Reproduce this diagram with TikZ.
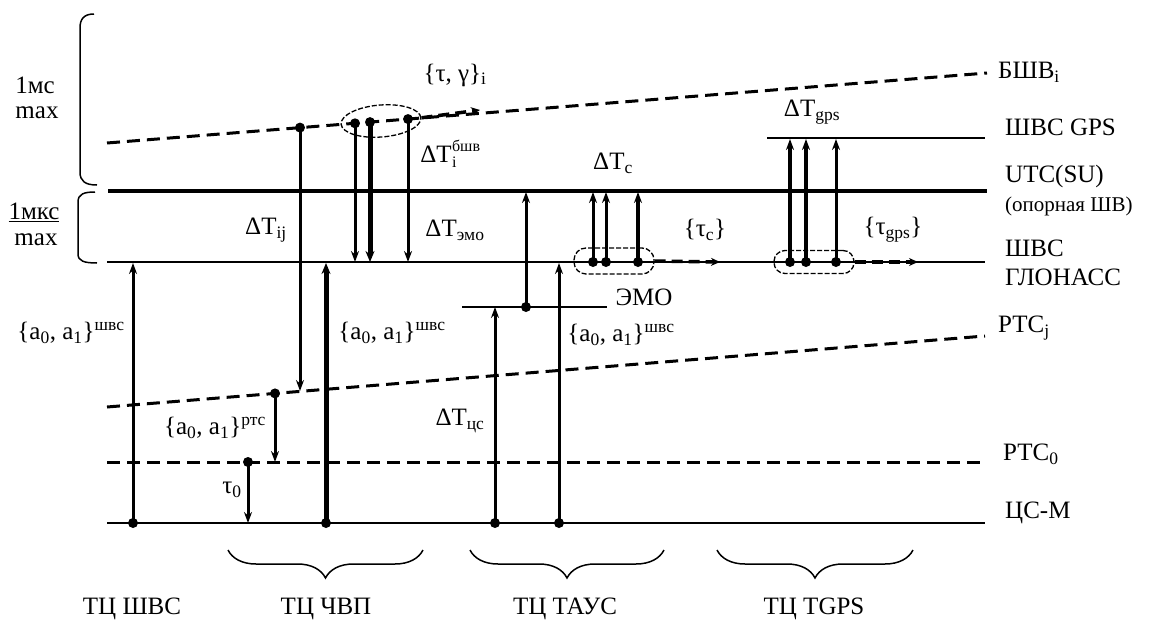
\documentclass[tikz,border=0pt]{standalone}
\usepackage{fontspec}
\setmainfont{Liberation Serif}
\usetikzlibrary{arrows.meta,shapes.geometric,decorations.pathreplacing,calc}
\newcommand\lsb[1]{\textsubscript{#1}}
\newcommand\lsp[1]{\textsuperscript{#1}}
\begin{document}
\begin{tikzpicture}[x=1pt,y=-1pt,
  lvl/.style={line width=1.5pt},
  lvlthick/.style={line width=4pt},
  lvldash/.style={line width=3pt,dash pattern=on 13pt off 7pt},
  arr/.style={line width=3pt,-{Stealth[length=11pt,width=8pt]}},
  arrthick/.style={line width=5pt,-{Stealth[length=11pt,width=9pt]}},
  dasharr/.style={line width=3.5pt,dash pattern=on 11pt off 6pt,-{Stealth[length=9pt,width=8pt]}},
  dot/.style={circle,fill=black,inner sep=0pt,minimum size=10pt},
  grp/.style={draw,line width=1.3pt,dash pattern=on 5pt off 2pt,inner sep=0pt},
  lab/.style={inner sep=0pt,font=\fontsize{25}{29}\selectfont},
  rlab/.style={lab,anchor=west},
  brk/.style={line width=1.5pt},
  ubrace/.style={line width=1.5pt,decorate,decoration={brace,amplitude=28pt,mirror}}]
\useasboundingbox (0,0) rectangle (1152,624);

% level lines
\coordinate (b1) at (107,143); \coordinate (b2) at (987,73);
\coordinate (g1) at (767,138); \coordinate (g2) at (985,138);
\coordinate (u1) at (108,191); \coordinate (u2) at (987,191);
\coordinate (s1) at (107,262); \coordinate (s2) at (985,262);
\coordinate (e1) at (462,307); \coordinate (e2) at (607,307);
\coordinate (j1) at (107,407); \coordinate (j2) at (985,336);
\coordinate (z1) at (107,462); \coordinate (z2) at (987,462);
\coordinate (c1) at (107,523); \coordinate (c2) at (985,523);
\draw[lvldash] (b1) -- (b2);
\draw[lvl] (g1) -- (g2);
\draw[lvlthick] (u1) -- (u2);
\draw[lvl] (s1) -- (s2);
\draw[lvl] (e1) -- (e2);
\draw[lvldash] (j1) -- (j2);
\draw[lvldash] (z1) -- (z2);
\draw[lvl] (c1) -- (c2);

% right labels
\node[rlab] (lb) at (998,72) {БШВ\lsb{i}};
\node[rlab] (lg) at (1005,127) {ШВС GPS};
\node[rlab] (lu) at (1005,176) {UTC(SU)};
\node[rlab,font=\fontsize{21}{24}\selectfont] (lu2) at (1005,206) {(опорная ШВ)};
\node[rlab] (ls) at (1005,248) {ШВС};
\node[rlab] (ls2) at (1005,277) {ГЛОНАСС};
\node[lab] (le) at (644,297) {ЭМО};
\node[rlab] (lj) at (998,328) {РТС\lsb{j}};
\node[rlab] (lz) at (1003,454) {РТС\lsb{0}};
\node[rlab] (lc) at (1005,513) {ЦС-М};

% left brackets and labels
\draw[brk] (94,14) .. controls (84,14) and (80,19) .. (80,28) -- (80,172) .. controls (80,181) and (85,185) .. (97,185);
\draw[brk] (95,192) .. controls (84,192) and (78,194) .. (78,202) -- (78,254) .. controls (78,261) and (84,263) .. (97,263);
\node[lab] (m1) at (35,85) {1мс};
\node[lab] (m2) at (37,113) {max};
\node[lab] (m3) at (34,212) {\underline{1мкс}};
\node[lab] (m4) at (36,240) {max};

% arrow 1: ЦС-М -> ШВС ГЛОНАСС (ТЦ ШВС)
\node[dot] (d1) at (133,523) {};
\coordinate (t1) at (133,263);
\draw[arr] (d1.center) -- (t1);
\node[lab] (a1) at (71,333) {\{a\lsb{0}, a\lsb{1}\}\lsp{швс}};

% ЧВП group
\node[dot] (d2) at (300,127.6) {};
\coordinate (t2) at (300,391);
\draw[arr] (d2.center) -- (t2);
\node[lab] (aij) at (266,230) {ΔT\lsb{ij}};
\node[dot] (d3) at (275,393.4) {};
\coordinate (t3) at (275,462);
\draw[arr] (d3.center) -- (t3);
\node[lab] (artc) at (215,428) {\{a\lsb{0}, a\lsb{1}\}\lsp{ртс}};
\node[dot] (d4) at (248,462) {};
\coordinate (t4) at (248,523);
\draw[arr] (d4.center) -- (t4);
\node[lab] (atau) at (232,490) {τ\lsb{0}};
\node[dot] (d5) at (326,523) {};
\coordinate (t5) at (326,263);
\draw[arrthick] (d5.center) -- (t5);
\node[lab] (a2) at (392,333) {\{a\lsb{0}, a\lsb{1}\}\lsp{швс}};

\node[dot] (d6) at (355,123.3) {};
\node[dot] (d7) at (370,122.1) {};
\node[dot] (d8) at (408,119.05) {};
\coordinate (t6) at (355,262); \coordinate (t7) at (370,262); \coordinate (t8) at (408,262);
\draw[arr] (d6.center) -- (t6);
\draw[arrthick] (d7.center) -- (t7);
\draw[arr] (d8.center) -- (t8);
\node[grp,ellipse,minimum width=80pt,minimum height=32pt,rotate=4.5] (ell) at (381,121) {};
\coordinate (tg) at (480,110);
\draw[dasharr] (ell.east) -- (tg);
\node[lab] (ltg) at (455,75) {\{τ, γ\}\lsb{i}};
\node[lab] (lbshv) at (436,154) {ΔT};
\node[anchor=west,inner sep=0pt,align=left,font=\fontsize{16}{16}\selectfont] (lbshv2) at (lbshv.east) {бшв\\i};
\node[lab] (lemo) at (455,230) {ΔT\lsb{эмо}};

% ТАУС group
\node[dot] (d9) at (526,307) {};
\coordinate (t9) at (526,192);
\draw[arr] (d9.center) -- (t9);
\node[dot] (d10) at (495,523) {};
\coordinate (t10) at (495,307);
\draw[arr] (d10.center) -- (t10);
\node[lab] (lcs) at (460,421) {ΔT\lsb{цс}};
\node[dot] (d11) at (559,523) {};
\coordinate (t11) at (559,263);
\draw[arr] (d11.center) -- (t11);
\node[lab] (a3) at (621,335) {\{a\lsb{0}, a\lsb{1}\}\lsp{швс}};

\node[dot] (d12) at (593,262) {};
\node[dot] (d13) at (606,262) {};
\node[dot] (d14) at (638,262) {};
\coordinate (t12) at (593,192); \coordinate (t13) at (606,192); \coordinate (t14) at (638,192);
\draw[arr] (d12.center) -- (t12);
\draw[arr] (d13.center) -- (t13);
\draw[arr,line width=4.5pt] (d14.center) -- (t14);
\node[grp,rounded corners=12pt,minimum width=80pt,minimum height=26pt] (bc) at (614,261) {};
\coordinate (tc) at (720,262);
\draw[dasharr] (bc.east) -- (tc);
\node[lab] (ldc) at (613,163) {ΔT\lsb{c}};
\node[lab] (ltc) at (705,230) {\{τ\lsb{c}\}};

% TGPS group
\node[dot] (d15) at (790,262) {};
\node[dot] (d16) at (806,262) {};
\node[dot] (d17) at (836,262) {};
\coordinate (t15) at (790,139); \coordinate (t16) at (806,139); \coordinate (t17) at (836,139);
\draw[arr,line width=3.5pt] (d15.center) -- (t15);
\draw[arr,line width=3.5pt] (d16.center) -- (t16);
\draw[arr] (d17.center) -- (t17);
\node[grp,rounded corners=11pt,minimum width=80pt,minimum height=23pt] (bg) at (814,262) {};
\coordinate (tgp) at (918,262);
\draw[dasharr] (bg.east) -- (tgp);
\node[lab] (ldg) at (812,112) {ΔT\lsb{gps}};
\node[lab] (ltgp) at (893,230) {\{τ\lsb{gps}\}};

% bottom braces and labels
\coordinate (p1) at (228,550); \coordinate (p2) at (423,550);
\coordinate (p3) at (470,550); \coordinate (p4) at (664,550);
\coordinate (p5) at (717,550); \coordinate (p6) at (913,550);
\draw[ubrace] (p1) -- (p2);
\draw[ubrace] (p3) -- (p4);
\draw[ubrace] (p5) -- (p6);
\node[lab] (n1) at (132,609) {ТЦ ШВС};
\node[lab] (n2) at (326,609) {ТЦ ЧВП};
\node[lab] (n3) at (565,609) {ТЦ ТАУС};
\node[lab] (n4) at (814,609) {ТЦ TGPS};
\end{tikzpicture}
\end{document}
